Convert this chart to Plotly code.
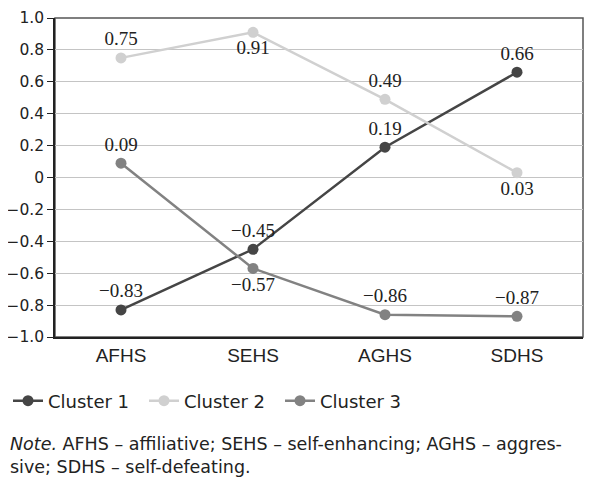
import plotly.graph_objects as go

# Humor style scores per cluster
categories = ["AFHS", "SEHS", "AGHS", "SDHS"]
cluster1 = [-0.83, -0.45, 0.19, 0.66]
cluster2 = [0.75, 0.91, 0.49, 0.03]
cluster3 = [0.09, -0.57, -0.86, -0.87]
label_pos1 = ["top center", "top center", "top center", "top center"]
label_pos2 = ["top center", "bottom center", "top center", "bottom center"]
label_pos3 = ["top center", "bottom center", "top center", "top center"]

y_ticks = [1.0, 0.8, 0.6, 0.4, 0.2, 0, -0.2, -0.4, -0.6, -0.8, -1.0]


def fmt(v):
    return f"{v:.2f}".replace("-", "\u2212")


def ytick(v):
    if v == 0:
        return "0"
    return f"{v:.1f}".replace("-", "\u2212")


series = [
    ("Cluster 1", cluster1, "#454545", label_pos1),
    ("Cluster 2", cluster2, "#d0d0d0", label_pos2),
    ("Cluster 3", cluster3, "#828282", label_pos3),
]

fig = go.Figure()
for name, vals, color, pos in series:
    fig.add_trace(go.Scatter(
        x=categories,
        y=vals,
        name=name,
        mode="lines+markers+text",
        line=dict(color=color, width=2.5),
        marker=dict(color=color, size=11),
        text=[fmt(v) for v in vals],
        textposition=pos,
        textfont=dict(family="Liberation Serif", size=19, color="#222222"),
        cliponaxis=False,
    ))

# page body adds ~8px around the figure, so the figure is 16px smaller
W, H = 577, 470
ml, mr, mt, mb = 47, 2, 10, 141
plot_w = W - ml - mr
plot_h = H - mt - mb
bottom = H - mb


def py(fig_y):
    # pixel row in the figure -> paper y
    return (bottom - fig_y) / plot_h


fig.update_layout(
    width=W,
    height=H,
    margin=dict(l=ml, r=mr, t=mt, b=mb, autoexpand=False),
    plot_bgcolor="white",
    paper_bgcolor="white",
    font=dict(family="DejaVu Sans", size=16, color="#222222"),
    showlegend=True,
    legend=dict(
        orientation="h",
        x=-ml / plot_w,
        xanchor="left",
        y=py(393),
        yanchor="middle",
        font=dict(size=18),
        entrywidth=91,
        entrywidthmode="pixels",
        itemwidth=30,
    ),
    annotations=[
        dict(
            text="<i>Note.</i> AFHS \u2013 affiliative; SEHS \u2013 self-enhancing; AGHS \u2013 aggres-<br>sive; SDHS \u2013 self-defeating.",
            xref="paper", yref="paper",
            x=-ml / plot_w, y=py(424),
            xanchor="left", yanchor="top",
            align="left",
            showarrow=False,
            font=dict(size=17.5, color="#222222"),
        )
    ],
)

fig.update_xaxes(
    type="category",
    range=[-0.5, 3.5],
    automargin=False,
    showline=True, linecolor="#222222", linewidth=1.5,
    showgrid=False,
    ticks="",
    tickfont=dict(family="Liberation Sans", size=19),
)
fig.update_yaxes(
    range=[-1.0, 1.0],
    automargin=False,
    tickvals=y_ticks,
    ticktext=[ytick(v) for v in y_ticks],
    ticklabeloverflow="allow",
    showline=True, linecolor="#222222", linewidth=1.5,
    showgrid=True, gridcolor="#c4c4c4", gridwidth=1.2,
    zeroline=False,
    ticks="outside", ticklen=6, tickcolor="#222222",
    tickfont=dict(family="DejaVu Sans", size=15.5),
)

# box frame around the plot area (top and right sides)
fig.add_shape(type="rect", xref="paper", yref="paper", x0=0, y0=0, x1=1, y1=1,
              line=dict(color="#555555", width=1.5), layer="below")

fig.write_html("out.html")
